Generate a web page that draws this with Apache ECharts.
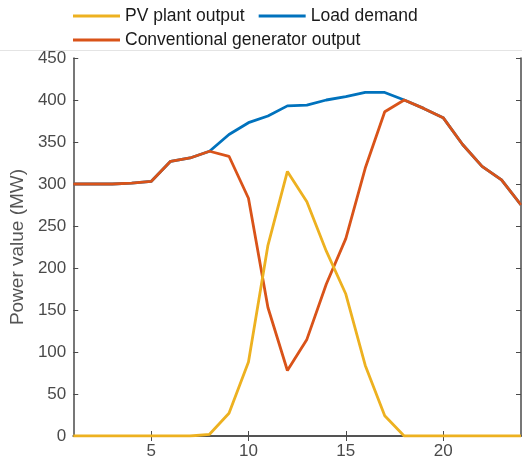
<!DOCTYPE html>
<html><head><meta charset="utf-8">
<script src="https://cdn.jsdelivr.net/npm/echarts@6/dist/echarts.min.js"></script>
<style>html,body{margin:0;padding:0;background:#fff}#c{width:522px;height:466px}</style>
</head><body><div id="c"></div>
<script>
const hours = [1,2,3,4,5,6,7,8,9,10,11,12,13,14,15,16,17,18,19,20,21,22,23,24];
const pvOutput = [0,0,0,0,0,0,0,2,27,88,227,315,279,220,169,84,24,0,0,0,0,0,0,0];
const loadDemand = [300,300,300,301,303,327,331,339,359,373,381,393,394,400,404,409,409,400,390,379,347,321,305,275];
const convOutput = [300,300,300,301,303,327,331,339,333,283,153,78,115,181,235,319,386,400,390,379,347,321,305,275];
const xTickLabels = [5,10,15,20];
const yTickLabels = [0,50,100,150,200,250,300,350,400,450];

const C_PV = '#EDB120', C_LOAD = '#0072BD', C_CONV = '#D95319';
const axisColor = '#4a4a4a';
const pair = (ys) => hours.map((h,i)=>[h, ys[i]]);
const lineS = (name, ys, color, z) => ({
  name, type:'line', data: pair(ys), symbol:'none', z,
  lineStyle:{color, width:2.8}, itemStyle:{color}, animation:false
});

const chart = echarts.init(document.getElementById('c'), null, {renderer:'canvas'});
chart.setOption({
  animation:false,
  backgroundColor:'#fff',
  textStyle:{fontFamily:'Liberation Sans, Arial, sans-serif'},
  legend:[
    {data:['PV plant output','Load demand'], left:73, top:7, padding:0, itemWidth:47, itemHeight:3, itemGap:14,
     icon:'rect', textStyle:{fontSize:17.5, color:'#1a1a1a'}},
    {data:['Conventional generator output'], left:73, top:31, padding:0, itemWidth:47, itemHeight:3,
     icon:'rect', textStyle:{fontSize:17.5, color:'#1a1a1a'}}
  ],
  graphic:[{type:'line', shape:{x1:0,y1:50.5,x2:522,y2:50.5}, style:{stroke:'#e4e4e4', lineWidth:1}, silent:true}],
  grid:{left:70, right:1, top:58, bottom:30, containLabel:false},
  xAxis:[
    {type:'value', min:1, max:24, position:'bottom',
     axisLine:{show:true, lineStyle:{color:axisColor, width:1.5}},
     axisTick:{show:true, inside:true, length:5, customValues:xTickLabels, lineStyle:{color:axisColor}},
     axisLabel:{customValues:xTickLabels, fontSize:17, color:'#4a4a4a', margin:7},
     splitLine:{show:false}},
    {type:'value', min:1, max:24, position:'top',
     axisLine:{show:true, lineStyle:{color:axisColor, width:1.5}},
     axisTick:{show:true, inside:true, length:5, customValues:xTickLabels, lineStyle:{color:axisColor}},
     axisLabel:{show:false}, splitLine:{show:false}}
  ],
  yAxis:[
    {type:'value', min:0, max:450, interval:50, position:'left',
     name:'Power value (MW)', nameLocation:'middle', nameGap:38,
     nameTextStyle:{fontSize:19, color:'#555'},
     axisLine:{show:true, lineStyle:{color:axisColor, width:1.5}},
     axisTick:{show:true, inside:true, length:5, lineStyle:{color:axisColor}},
     axisLabel:{fontSize:17, color:'#4a4a4a', margin:7, formatter:(v)=>yTickLabels.includes(v)?String(v):''},
     splitLine:{show:false}},
    {type:'value', min:0, max:450, interval:50, position:'right',
     axisLine:{show:true, lineStyle:{color:axisColor, width:1.5}},
     axisTick:{show:true, inside:true, length:5, lineStyle:{color:axisColor}},
     axisLabel:{show:false}, splitLine:{show:false}}
  ],
  series:[
    lineS('Load demand', loadDemand, C_LOAD, 2),
    lineS('Conventional generator output', convOutput, C_CONV, 3),
    lineS('PV plant output', pvOutput, C_PV, 4)
  ]
});
</script></body></html>
